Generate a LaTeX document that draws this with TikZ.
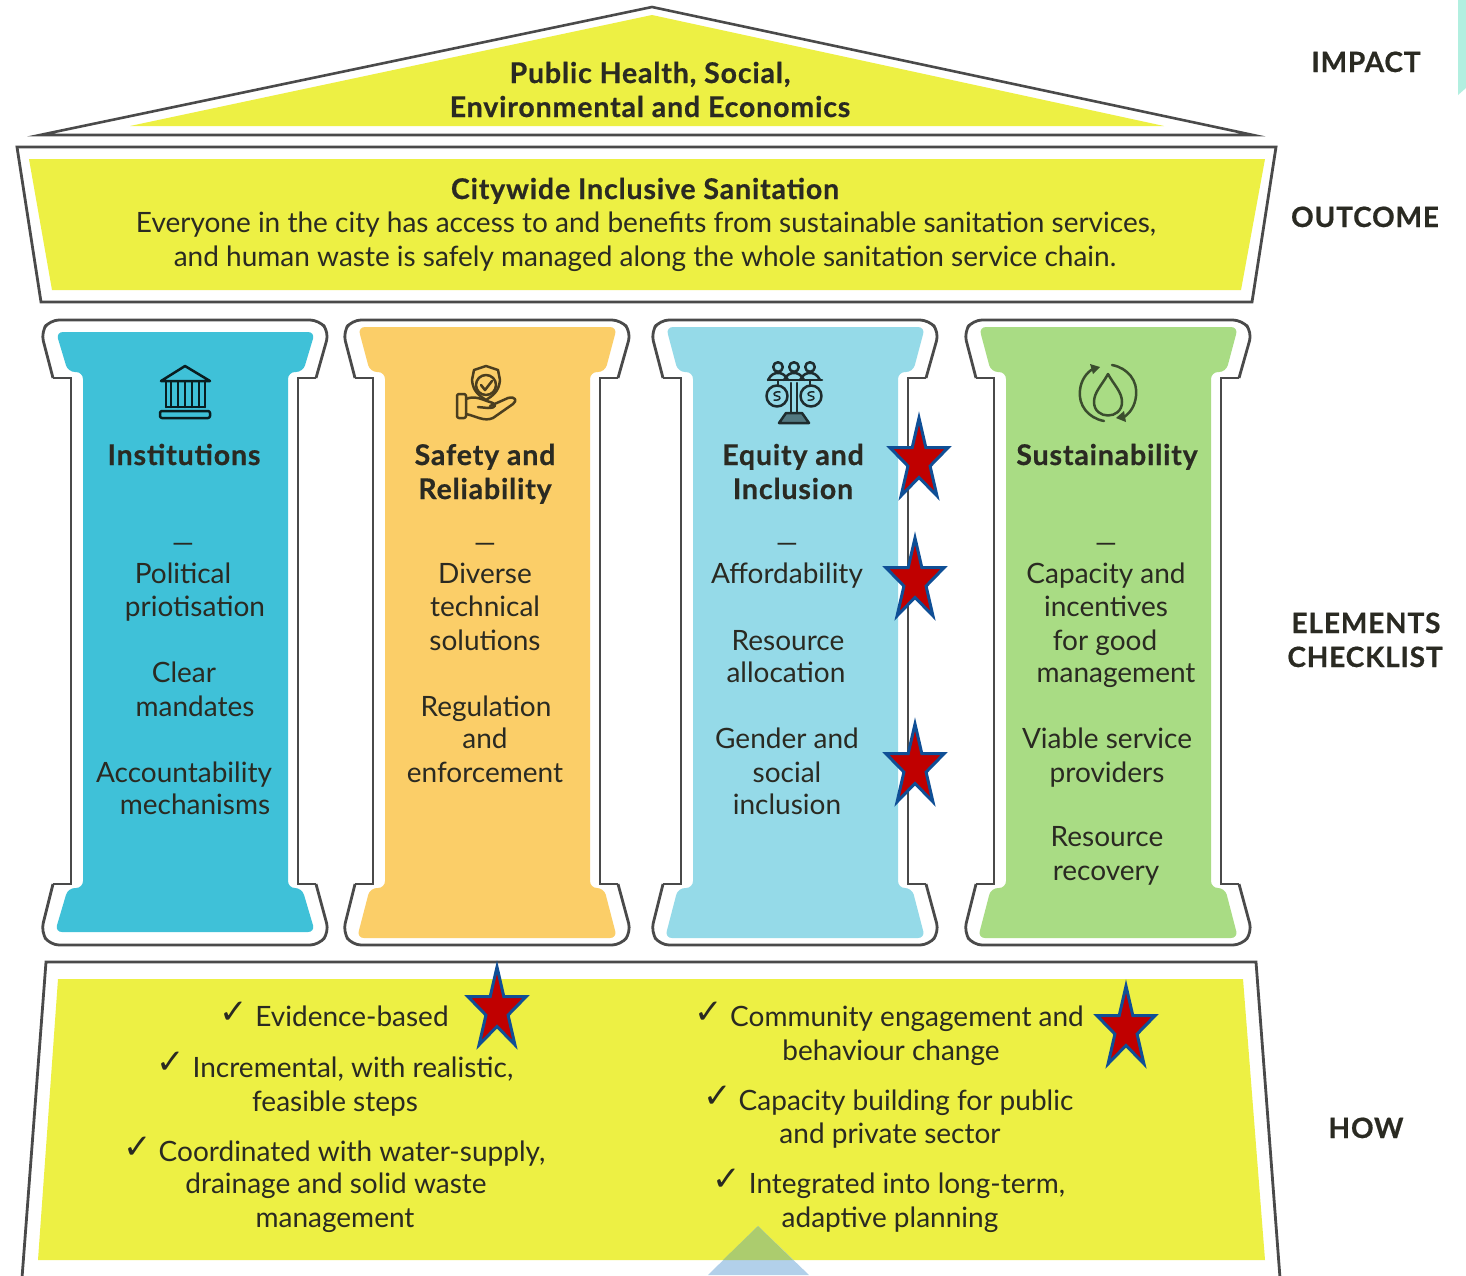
\documentclass[tikz,border=0pt]{standalone}
\usepackage{fontspec}
\setmainfont{Lato}[BoldFeatures={FakeBold=0.6,LetterSpace=3}]
\newfontfamily\chk{DejaVu Sans}
\definecolor{yel}{HTML}{EDF044}
\definecolor{ins}{HTML}{3FC1D8}
\definecolor{saf}{HTML}{FBCE68}
\definecolor{equ}{HTML}{95DAE8}
\definecolor{sus}{HTML}{A9DC84}
\definecolor{lin}{HTML}{4A4A4A}
\definecolor{txt}{HTML}{2A2A22}
\definecolor{stf}{HTML}{C00000}
\definecolor{stb}{HTML}{0F4F96}
\newcount\tcnt
\newcommand{\tl}[4][tbody]{\global\advance\tcnt by 1 \node[#1] (t\the\tcnt) at (#2,#3) {#4};}
\newcommand{\pillar}[5]{% x offset, colour, fill top, fill bottom, name
 \begin{scope}[shift={(#1,0)}]
 \fill[#2,rounded corners=7] (56,#3) -- (315,#3) -- (303,372) -- (288,372) -- (288,888) -- (302,888) -- (315,#4) -- (55,#4) -- (68,888) -- (83,888) -- (83,372) -- (68,372) -- cycle;
 \draw[outl,rounded corners=9] (53,378) -- (41,332) -- (50,320) -- (319,320) -- (329,332) -- (316,378);
 \draw[outl] (53,378) -- (71,378) -- (71,884) -- (53,884);
 \draw[outl] (316,378) -- (298,378) -- (298,884) -- (316,884);
 \draw[outl,rounded corners=9] (53,884) -- (41,932) -- (50,945) -- (319,945) -- (329,932) -- (316,884);
 \end{scope}}
\newcommand{\starshape}[2]{% centre x, top y of the tip
 \begin{scope}[shift={(#1,#2+48)}]
 \draw[fill=stf,draw=stb,line width=3pt,miter limit=10]
  (0,-43) \foreach \a/\r in {1/.382,2/1,3/.382,4/1,5/.382,6/1,7/.382,8/1,9/.382}{-- ({30.5*\r*sin(36*\a)},{-43*\r*cos(36*\a)})} -- cycle;
 \end{scope}}
\tikzset{x=1pt,y=-1pt,
 outl/.style={draw=lin,line width=2.8pt,line join=miter},
 tbody/.style={font=\fontsize{28}{30}\selectfont,text=txt,inner sep=0pt,anchor=base},
 thead/.style={font=\fontsize{28.5}{30}\selectfont\bfseries,text=txt,inner sep=0pt,anchor=base},
 tside/.style={font=\fontsize{28}{30}\selectfont\bfseries,text=txt,inner sep=0pt,anchor=base},
 tick/.style={font=\chk\fontsize{34}{36}\selectfont,text=txt,inner sep=0pt},
 icon/.style={draw=#1,line width=2.5pt,line join=round,line cap=round},
 icon/.default=black}
\begin{document}
\begin{tikzpicture}
\useasboundingbox (0,0) rectangle (1466,1275);
\fill[white] (0,0) rectangle (1466,1275);
% corner remnant
\fill[fill={rgb,255:red,178;green,239;blue,224}] (1458,0) -- (1466,0) -- (1466,88) -- (1458,95) -- cycle;
% roof
\fill[yel] (652,15) -- (1164,126) -- (130,126) -- cycle;
\draw[outl,line width=2.6pt,miter limit=30] (652,7) -- (1253,135) -- (40,135) -- cycle;
% outcome
\fill[yel] (29,159) -- (1265,159) -- (1241,290) -- (52,290) -- cycle;
\draw[outl] (17,147) -- (1276,147) -- (1252,302) -- (41,302) -- cycle;
% pillars
\pillar{0}{ins}{332}{932}{p1}
\pillar{302}{saf}{327}{938}{p2}
\pillar{610}{equ}{327}{938}{p3}
\pillar{923}{sus}{327}{938}{p4}
% how
\fill[yel] (58,979) -- (1243,979) -- (1265,1260) -- (38,1260) -- cycle;
\draw[outl] (22,1278) -- (46,962) -- (1256,962) -- (1280,1278);
% triangle at the lower edge
\begin{scope}
\clip (0,0) rectangle (1466,1275);
\fill[fill={rgb,255:red,178;green,208;blue,234}] (758,1226) -- (809,1275) -- (708,1275) -- cycle;
\fill[fill={rgb,255:red,172;green,204;blue,110}] (758,1226) -- (793,1260) -- (723,1260) -- cycle;
\end{scope}
% icons
\begin{scope}[icon=black!85!ins]
 \draw (161,381) -- (185,366) -- (210,381) -- cycle;
 \draw (166,382) -- (166,407) (171,382) -- (171,407) (178,382) -- (178,407) (185,382)--(185,407) (192,382)--(192,407) (199,382)--(199,407) (205,382)--(205,407);
 \draw (166,407) -- (205,407);
 \draw[rounded corners=2] (160,411) rectangle (210,418);
\end{scope}
\begin{scope}[icon=black!70!saf]
 \draw (486,366) -- (498,370) -- (500,380) .. controls (499,392) and (492,396) .. (486,400) .. controls (480,396) and (473,392) .. (472,380) -- (474,370) -- cycle;
 \draw (486,385) circle (10);
 \draw (481,385) -- (485,390) -- (492,381);
 \draw[rounded corners=2] (457,394) rectangle (466,418);
 \draw (466,399) .. controls (475,395) and (483,400) .. (490,402) .. controls (497,404) and (497,408) .. (488,408) -- (478,407);
 \draw (490,406) -- (508,398) .. controls (516,396) and (517,401) .. (513,404) -- (493,418) .. controls (484,422) and (476,416) .. (466,414);
\end{scope}
\begin{scope}[icon=black!80!equ]
 \foreach \cx in {778,794,810}{
  \draw (\cx,367) circle (4.8);
  \draw (\cx-10,380) .. controls (\cx-7,374) and (\cx-3,373) .. (\cx,373) .. controls (\cx+3,373) and (\cx+7,374) .. (\cx+10,380);}
 \draw (768,380) -- (822,380);
 \draw (791,383) -- (791,420) (797,383) -- (797,420);
 \draw (778,380) -- (778,386) (810,380) -- (810,386);
 \draw (777,396) circle (10.5) (811,396) circle (10.5);
 \draw[line width=1.5pt] (780,392) .. controls (772,391) and (773,396) .. (777,396) .. controls (781,396) and (782,401) .. (774,400);
 \draw[line width=1.5pt] (814,392) .. controls (806,391) and (807,396) .. (811,396) .. controls (815,396) and (816,401) .. (808,400);
 \draw[fill=black!45!equ] (786,413) -- (802,413) -- (809,423) -- (779,423) -- cycle;
\end{scope}
\begin{scope}[icon=black!65!sus]
 \draw (1108,374) .. controls (1102,385) and (1094,392) .. (1094,402) .. controls (1094,420) and (1122,420) .. (1122,402) .. controls (1122,392) and (1114,385) .. (1108,374) -- cycle;
 \draw (1112,365) .. controls (1128,368) and (1138,381) .. (1136,396) .. controls (1135,406) and (1130,413) .. (1124,417);
 \draw (1104,421) .. controls (1088,418) and (1078,405) .. (1080,390) .. controls (1081,380) and (1087,372) .. (1093,369);
 \fill[black!65!sus] (1100,367) -- (1090,364) -- (1093,374) -- cycle;
 \fill[black!65!sus] (1116,418) -- (1126,422) -- (1124,411) -- cycle;
\end{scope}
% roof texts
\tl[thead]{650}{83}{Public Health, Social,}
\tl[thead]{650}{117}{Environmental and Economics}
% outcome texts
\tl[thead]{645}{199}{Citywide Inclusive Sanitation}
\tl{646}{232}{Everyone in the city has access to and benefits from sustainable sanitation services,}
\tl{645}{266}{and human waste is safely managed along the whole sanitation service chain.}
% pillar headings and items
\tl[thead]{184}{465}{Institutions}
\tl{183}{552}{—}
\tl{183}{583}{Political}
\tl{195}{616}{priotisation}
\tl{184}{682}{Clear}
\tl{195}{716}{mandates}
\tl{184}{782}{Accountability}
\tl{195}{814}{mechanisms}
\tl[thead]{485}{465}{Safety and}
\tl[thead]{485}{499}{Reliability}
\tl{485}{552}{—}
\tl{485}{583}{Diverse}
\tl{485}{616}{technical}
\tl{485}{650}{solutions}
\tl{486}{716}{Regulation}
\tl{485}{748}{and}
\tl{485}{782}{enforcement}
\tl[thead]{793}{465}{Equity and}
\tl[thead]{793}{499}{Inclusion}
\tl{787}{552}{—}
\tl{787}{583}{Affordability}
\tl{788}{650}{Resource}
\tl{786}{682}{allocation}
\tl{787}{748}{Gender and}
\tl{787}{782}{social}
\tl{787}{814}{inclusion}
\tl[thead]{1107}{465}{Sustainability}
\tl{1106}{552}{—}
\tl{1106}{583}{Capacity and}
\tl{1106}{616}{incentives}
\tl{1105}{650}{for good}
\tl{1116}{682}{management}
\tl{1107}{748}{Viable service}
\tl{1107}{782}{providers}
\tl{1107}{846}{Resource}
\tl{1106}{880}{recovery}
% how, left
\node[tick] (c1) at (234,1013) {✓};
\tl{352}{1026}{Evidence-based}
\node[tick] (c2) at (171,1063) {✓};
\tl{353}{1077}{Incremental, with realistic,}
\tl{335}{1111}{feasible steps}
\node[tick] (c3) at (138,1148) {✓};
\tl{352}{1161}{Coordinated with water-supply,}
\tl{336}{1193}{drainage and solid waste}
\tl{335}{1227}{management}
% how, right
\node[tick] (c4) at (709,1013) {✓};
\tl{907}{1026}{Community engagement and}
\tl{891}{1060}{behaviour change}
\node[tick] (c5) at (718,1097) {✓};
\tl{906}{1110}{Capacity building for public}
\tl{890}{1143}{and private sector}
\node[tick] (c6) at (727,1180) {✓};
\tl{907}{1193}{Integrated into long-term,}
\tl{890}{1227}{adaptive planning}
% side labels
\tl[tside]{1366}{72}{IMPACT}
\tl[tside]{1365}{227}{OUTCOME}
\tl[tside]{1366}{633}{ELEMENTS}
\tl[tside]{1365}{667}{CHECKLIST}
\tl[tside]{1366}{1138}{HOW}
% stars
\starshape{919}{413}
\starshape{915}{533}
\starshape{915}{719}
\starshape{497}{962}
\starshape{1126}{981}
\end{tikzpicture}
\end{document}
